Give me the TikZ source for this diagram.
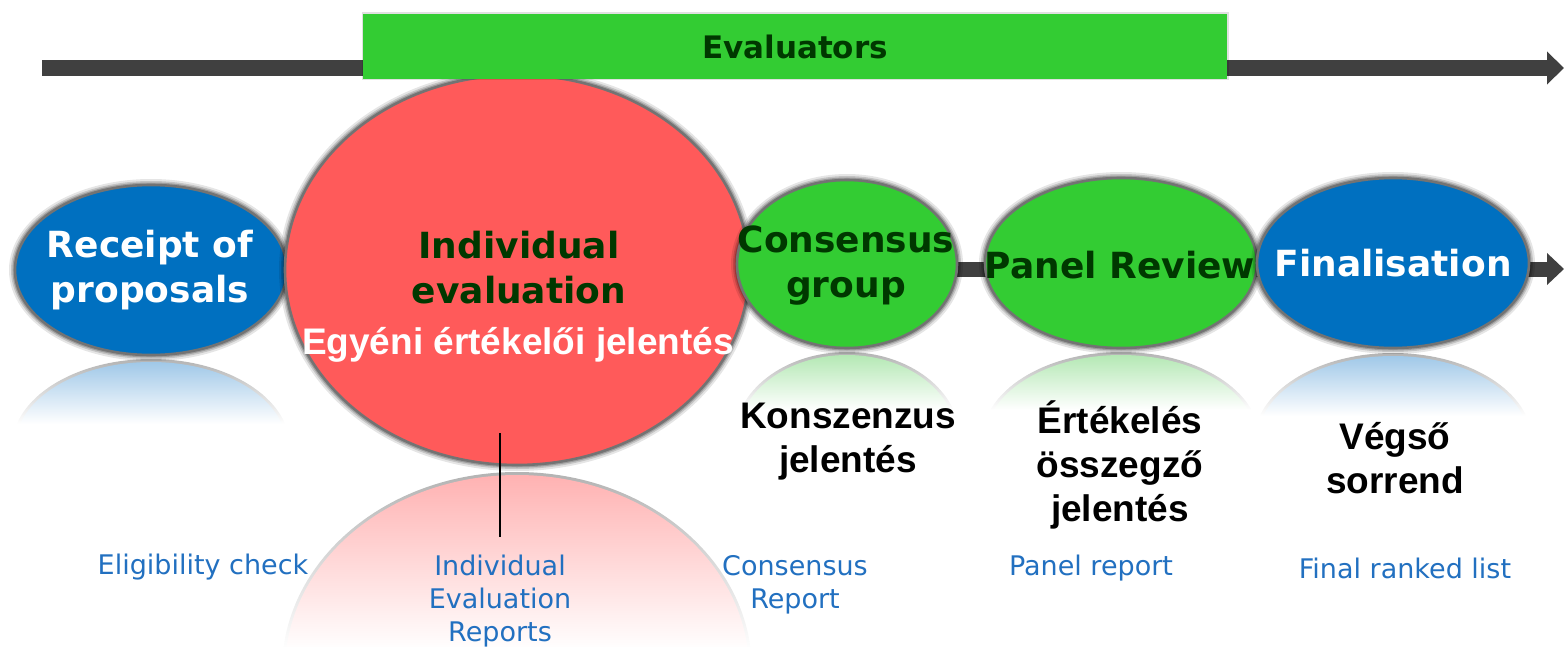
\documentclass[tikz,border=0pt]{standalone}
\usepackage{fontspec}
\setmainfont{DejaVu Sans}
\newfontfamily\arialfont{Liberation Sans}
\usetikzlibrary{shapes.geometric,arrows.meta}
\definecolor{cblue}{RGB}{0,112,192}
\definecolor{cred}{RGB}{255,90,90}
\definecolor{cgreen}{RGB}{51,204,51}
\definecolor{dgreen}{RGB}{0,56,0}
\definecolor{lblue}{RGB}{34,112,192}
\definecolor{arrowgray}{RGB}{64,64,64}
\definecolor{rblue}{RGB}{160,200,232}
\definecolor{rred}{RGB}{255,178,178}
\definecolor{rgreen}{RGB}{180,232,180}
% reflection: cx, top, rx, ry, colour, fade height
\newcommand{\mkrefl}[6]{%
  \begin{scope}
    \clip (#1-#3-8,#2-6) rectangle (#1+#3+8,#2+#6);
    \begin{scope}
      \clip (#1,#2+#4) ellipse [x radius=#3+3, y radius=#4+3];
      \shade[top color=black!30, bottom color=white] (#1-#3-4,#2-4) rectangle (#1+#3+4,#2+#6);
    \end{scope}
    \begin{scope}
      \clip (#1,#2+#4) ellipse [x radius=#3, y radius=#4];
      \shade[top color=#5, bottom color=white] (#1-#3,#2) rectangle (#1+#3,#2+#6);
    \end{scope}
  \end{scope}}

\begin{document}
\begin{tikzpicture}[x=0.5pt,y=-0.5pt,
  stage/.style={ellipse, draw=black!55, line width=1.3pt, inner sep=0pt,
    preaction={draw=black, draw opacity=0.10, line width=6pt},
    preaction={draw=black, draw opacity=0.15, line width=4pt},
    preaction={draw=black, draw opacity=0.20, line width=2.5pt}},
  flowline/.style={arrowgray, line width=#1},
  stagetext/.style={font=\bfseries\fontsize{18}{22.5}\selectfont, align=center},
  outtext/.style={font=\arialfont\bfseries\fontsize{18.5}{22}\selectfont, align=center, text=black},
  doc/.style={font=\fontsize{13.5}{16.5}\selectfont, align=center, text=lblue},
]
\useasboundingbox (0,0) rectangle (1564,647);

% middle flow arrow (behind the stages)
\coordinate (midstart) at (151,269);
\coordinate (midend) at (1564,269);
\draw[flowline=7.5pt, -{Triangle[length=8.5pt,width=15.5pt]}] (midstart) -- (midend);

% reflections
\mkrefl{151}{362}{136}{85}{rblue}{62}
\mkrefl{517}{475}{232}{195}{rred}{175}
\mkrefl{847}{355}{110}{84}{rgreen}{55}
\mkrefl{1121}{355}{136}{85}{rgreen}{55}
\mkrefl{1393}{356}{136}{85}{rblue}{60}

% stages
\node[stage, fill=cblue, minimum width=136pt, minimum height=85pt] (rec) at (151,270) {};
\node[stage, fill=cred, minimum width=232pt, minimum height=195pt] (ind) at (517,270) {};
\node[stage, fill=cgreen, minimum width=110pt, minimum height=84pt] (cons) at (847,264) {};
\node[stage, fill=cgreen, minimum width=136pt, minimum height=85pt] (pan) at (1121,263) {};
\node[stage, fill=cblue, minimum width=136pt, minimum height=85pt] (fin) at (1393,263) {};

% top arrow
\coordinate (tstart) at (42,68);
\coordinate (tend) at (1564,68);
\draw[flowline=8pt, -{Triangle[length=8.5pt,width=16pt]}] (tstart) -- (tend);

% evaluators bar
\node[fill=cgreen, minimum width=432pt, minimum height=32.5pt, inner sep=0pt,
  font=\bfseries\fontsize{15.5}{18}\selectfont, text=dgreen,
  preaction={draw=black, draw opacity=0.12, line width=1.5pt}]
  (evalbar) at (795,46.5) {Evaluators};

% stage labels
\node[stagetext, text=white] (rect) at (150,270) {Receipt of\\proposals};
\node[stagetext, text=dgreen] (indt) at (519,268) {Individual\\evaluation};
\node[font=\arialfont\bfseries\fontsize{18.5}{22}\selectfont, text=white] (egy) at (518,345) {Egyéni értékelői jelentés};
\node[stagetext, text=dgreen] (const) at (846,266) {Consensus\\group};
\node[stagetext, text=dgreen] (pant) at (1120,265) {Panel Review};
\node[stagetext, text=white] (fint) at (1393,263) {Finalisation};

% Hungarian outputs
\node[outtext] (konsz) at (848,442) {Konszenzus\\jelentés};
\node[outtext] (ertek) at (1120,465) {Értékelés\\összegző\\jelentés};
\node[outtext] (vegso) at (1395,458) {Végső\\sorrend};

% documents
\node[doc] (elig) at (203,567) {Eligibility check};
\node[doc] (ier) at (500,601) {Individual\\Evaluation\\Reports};
\node[doc] (crep) at (795,585) {Consensus\\Report};
\node[doc] (prep) at (1091,568) {Panel report};
\node[doc] (frl) at (1405,568) {Final ranked list};

% vertical marker
\coordinate (vtop) at (500,433);
\coordinate (vbot) at (500,537);
\draw[line width=1pt] (vtop) -- (vbot);
\end{tikzpicture}
\end{document}
